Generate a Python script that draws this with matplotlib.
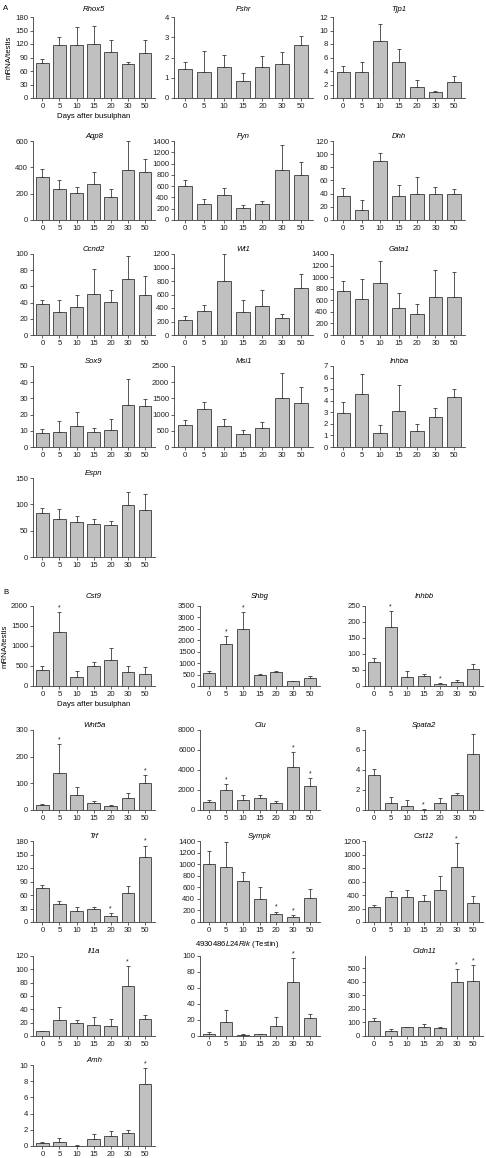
import numpy as np
import matplotlib
matplotlib.use('Agg')
import matplotlib.pyplot as plt

plt.rcParams['font.family'] = ['Liberation Sans', 'DejaVu Sans']
plt.rcParams['mathtext.fontset'] = 'custom'
plt.rcParams['mathtext.it'] = 'Liberation Sans:italic'
plt.rcParams['mathtext.rm'] = 'Liberation Sans'

# days after busulphan
days = ['0', '5', '10', '15', '20', '30', '50']

# panel A: mean and upper error (mRNA/testis)
rhox5 = [77, 117, 118, 120, 102, 75, 100]
rhox5_err = [9, 18, 39, 40, 26, 4, 30]
fshr = [1.42, 1.3, 1.55, 0.85, 1.55, 1.7, 2.62]
fshr_err = [0.38, 1.0, 0.55, 0.37, 0.5, 0.55, 0.45]
tjp1 = [3.8, 3.9, 8.4, 5.4, 1.7, 0.9, 2.4]
tjp1_err = [0.9, 1.5, 2.6, 1.9, 0.9, 0.1, 0.8]
aqp8 = [325, 235, 203, 272, 175, 378, 367]
aqp8_err = [62, 65, 47, 90, 60, 220, 100]
fyn = [595, 290, 445, 215, 278, 880, 800]
fyn_err = [110, 85, 115, 45, 52, 450, 230]
dhh = [37, 15, 89, 37, 40, 40, 39]
dhh_err = [11, 15, 13, 16, 25, 10, 8]
ccnd2 = [38, 29, 35, 51, 41, 69, 49]
ccnd2_err = [5, 14, 14, 30, 15, 29, 24]
wt1 = [220, 350, 795, 340, 425, 250, 695]
wt1_err = [55, 95, 400, 180, 245, 60, 215]
gata1 = [755, 620, 895, 465, 365, 650, 665]
gata1_err = [175, 340, 390, 265, 165, 470, 430]
sox9 = [8.8, 9.3, 12.8, 9.3, 10.5, 25.8, 25.5]
sox9_err = [2.2, 6.7, 8.7, 2.7, 6.5, 16.2, 4]
msi1 = [670, 1180, 650, 400, 580, 1500, 1350]
msi1_err = [150, 200, 200, 140, 180, 790, 490]
inhba = [2.95, 4.55, 1.2, 3.15, 1.35, 2.55, 4.35]
inhba_err = [0.95, 1.75, 0.7, 2.25, 0.6, 0.85, 0.65]
espn = [83, 73, 67, 63, 61, 99, 90]
espn_err = [10, 18, 10, 10, 8, 24, 29]

# panel B
cst9 = [400, 1350, 235, 490, 655, 355, 290]
cst9_err = [100, 490, 145, 110, 295, 145, 190]
shbg = [575, 1830, 2490, 460, 625, 210, 330]
shbg_err = [75, 340, 760, 60, 35, 15, 120]
inhbb = [75, 185, 28, 31, 7, 14, 53]
inhbb_err = [12, 50, 20, 6, 3, 5, 15]
wnt5a = [18, 137, 55, 27, 16, 45, 102]
wnt5a_err = [4, 111, 30, 6, 3, 17, 28]
clu = [850, 2050, 1000, 1250, 700, 4300, 2400]
clu_err = [150, 550, 550, 300, 250, 1500, 800]
spata2 = [3.5, 0.7, 0.45, 0.05, 0.7, 1.5, 5.6]
spata2_err = [0.6, 0.6, 0.6, 0.05, 0.5, 0.2, 2.0]
trf = [75, 40, 25, 29, 13, 64, 145]
trf_err = [8, 7, 8, 4, 7, 16, 25]
sympk = [1000, 950, 705, 395, 135, 90, 410]
sympk_err = [230, 430, 155, 215, 45, 25, 155]
cst12 = [225, 375, 375, 310, 475, 810, 285]
cst12_err = [25, 85, 95, 90, 200, 355, 100]
il1a = [7, 24, 20, 17, 15, 75, 26]
il1a_err = [1, 20, 4, 12, 10, 30, 5]
testin = [3, 18, 1, 2, 12, 68, 22]
testin_err = [1.5, 14, 1, 1, 12, 29, 6]
cldn11 = [108, 40, 65, 65, 58, 395, 408]
cldn11_err = [22, 8, 5, 27, 7, 100, 117]
amh = [0.35, 0.5, 0.05, 0.85, 1.25, 1.6, 7.6]
amh_err = [0.2, 0.5, 0.07, 0.65, 0.55, 0.4, 2.0]

# (title, means, errors, y max, tick step, significant days, row, col)
panels_a = [
    ('Rhox5', rhox5, rhox5_err, 180, 30, [], 0, 0),
    ('Fshr', fshr, fshr_err, 4, 1, [], 0, 1),
    ('Tjp1', tjp1, tjp1_err, 12, 2, [], 0, 2),
    ('Aqp8', aqp8, aqp8_err, 600, 200, [], 1, 0),
    ('Fyn', fyn, fyn_err, 1400, 200, [], 1, 1),
    ('Dhh', dhh, dhh_err, 120, 20, [], 1, 2),
    ('Ccnd2', ccnd2, ccnd2_err, 100, 20, [], 2, 0),
    ('Wt1', wt1, wt1_err, 1200, 200, [], 2, 1),
    ('Gata1', gata1, gata1_err, 1400, 200, [], 2, 2),
    ('Sox9', sox9, sox9_err, 50, 10, [], 3, 0),
    ('Msi1', msi1, msi1_err, 2500, 500, [], 3, 1),
    ('Inhba', inhba, inhba_err, 7, 1, [], 3, 2),
    ('Espn', espn, espn_err, 150, 50, [], 4, 0),
]
panels_b = [
    ('Cst9', cst9, cst9_err, 2000, 500, [1], 0, 0),
    ('Shbg', shbg, shbg_err, 3500, 500, [1, 2], 0, 1),
    ('Inhbb', inhbb, inhbb_err, 250, 50, [1, 4], 0, 2),
    ('Wnt5a', wnt5a, wnt5a_err, 300, 100, [1, 6], 1, 0),
    ('Clu', clu, clu_err, 8000, 2000, [1, 5, 6], 1, 1),
    ('Spata2', spata2, spata2_err, 8, 2, [3], 1, 2),
    ('Trf', trf, trf_err, 180, 30, [4, 6], 2, 0),
    ('Sympk', sympk, sympk_err, 1400, 200, [4, 5], 2, 1),
    ('Cst12', cst12, cst12_err, 1200, 200, [5], 2, 2),
    ('Il1a', il1a, il1a_err, 120, 20, [5], 3, 0),
    ('4930486L24Rik', testin, testin_err, 100, 20, [5], 3, 1),
    ('Cldn11', cldn11, cldn11_err, 500, 100, [5, 6], 3, 2),
    ('Amh', amh, amh_err, 10, 2, [6], 4, 0),
]

W, H = 486, 1158
fig = plt.figure(figsize=(W / 100, H / 100), dpi=100)

# axes boxes in pixels (top, bottom) / (left, right)
rows_a = [(17, 98), (141, 220), (254, 335), (366, 447), (478, 557)]
cols_a = [(33, 155), (174, 313), (333, 465)]
rows_b = [(606, 686), (730, 810), (841, 922), (956, 1036), (1065, 1146)]
cols_b = [(33, 155), (200, 320), (365, 483)]

fs = 5.6
edge = '#3a3a3a'


def draw(p, rows, cols, first_pad):
    title, vals, errs, ymax, step, sig, r, c = p
    top, bot = rows[r]
    left, right = cols[c]
    ax = fig.add_axes([left / W, 1 - bot / H, (right - left) / W, (bot - top) / H])
    x = np.arange(len(days))
    ax.bar(x, vals, width=0.72, color='#c0c0c0', edgecolor=edge, linewidth=0.6, zorder=2)
    ax.errorbar(x, vals, yerr=[np.zeros(len(vals)), errs], fmt='none', ecolor=edge,
                elinewidth=0.6, capsize=1.6, capthick=0.6, zorder=3)
    for i in sig:
        ax.text(x[i], vals[i] + errs[i] + ymax * 0.01, '*', ha='center', va='bottom',
                fontsize=fs - 0.6, color='#222222', clip_on=False)
    ylim_top = ymax * 1.18 if title == 'Cldn11' else ymax
    ax.set_ylim(0, ylim_top)
    ax.set_yticks(np.arange(0, ymax + step / 2, step))
    ax.set_xlim(-0.55, 6.6)
    ax.set_xticks(x)
    ax.set_xticklabels(days)
    ax.tick_params(labelsize=fs, length=2, width=0.5, pad=1.5, colors='#222222')
    for s in ['top', 'right']:
        ax.spines[s].set_visible(False)
    for s in ['left', 'bottom']:
        ax.spines[s].set_linewidth(0.6)
        ax.spines[s].set_color(edge)
    pad = first_pad if r == 0 else 2
    if title == '4930486L24Rik':
        # long title sits left of centre, beside the star
        t = r'$\mathit{4930486L24Rik}$ (Testin)'
        ax.text(0.31, 1.07, t, transform=ax.transAxes, ha='center', va='bottom',
                fontsize=fs)
    else:
        ax.set_title(title, fontsize=fs, style='italic', pad=pad)
    if r == 0 and c == 0:
        ax.set_ylabel('mRNA/testis', fontsize=fs, labelpad=2)
        ax.set_xlabel('Days after busulphan', fontsize=fs, labelpad=2)
    return ax


for p in panels_a:
    draw(p, rows_a, cols_a, 4)
for p in panels_b:
    draw(p, rows_b, cols_b, 6)

fig.text(3 / W, 1 - 8 / H, 'A', fontsize=fs, va='center')
fig.text(3 / W, 1 - 593 / H, 'B', fontsize=fs, va='center')

fig.savefig('out.png', dpi=100)
